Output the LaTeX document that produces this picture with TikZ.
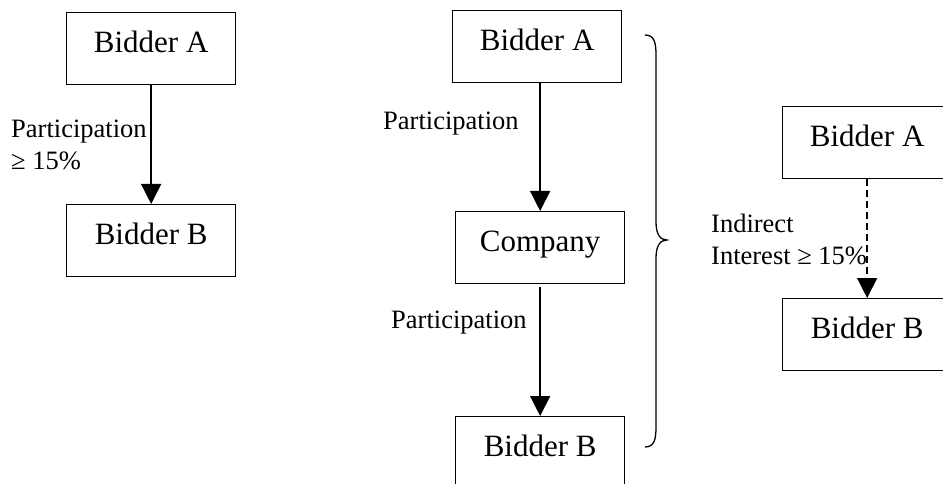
\documentclass[tikz,border=0pt]{standalone}
\usepackage{fontspec}
\setmainfont{Liberation Serif}
\usetikzlibrary{arrows.meta}
\begin{document}
\begin{tikzpicture}[x=1pt,y=-1pt,
  box/.style={draw,line width=1.3pt,inner sep=0pt,minimum width=169pt,
    text height=40pt,text depth=32pt,anchor=north west,
    font=\fontsize{31}{32}\selectfont},
  lbl/.style={inner sep=0pt,anchor=base west,font=\fontsize{26.5}{32}\selectfont},
  arr/.style={line width=1.4pt,-{Triangle[width=20pt,length=20pt]}},
  darr/.style={arr,dash pattern=on 7pt off 4pt}]
\useasboundingbox (0,0) rectangle (943,484);
\clip (0,0) rectangle (943,484);
% left
\node[box] (la) at (66,12) {Bidder A};
\node[box] (lb) at (66,204) {Bidder B};
\draw[arr] (la.south) -- (lb.north);
\node[lbl] (lp1) at (11,138) {Participation};
\node[lbl] (lp2) at (11,170) {≥ 15\%};
% middle
\node[box] (ma) at (452,10) {Bidder A};
\node[box] (mc) at (455,211) {Company};
\node[box] (mb) at (455,416) {Bidder B};
\draw[arr] (ma.south -| mc.south) -- (mc.north);
\draw[arr] ([yshift=-3pt]mc.south) -- (mb.north);
\node[lbl] (mp1) at (383,130) {Participation};
\node[lbl] (mp2) at (391,328) {Participation};
% brace
\draw[line width=1.3pt] (645,35) .. controls (654,35) and (656,42) .. (656,55)
  -- (656,222) .. controls (656,234) and (660,240) .. (667,240)
  .. controls (660,240) and (656,246) .. (656,258)
  -- (656,427) .. controls (656,440) and (654,447) .. (645,447);
% right
\node[box] (ra) at (782,106) {Bidder A};
\node[box] (rb) at (782,298) {Bidder B};
\draw[darr] (ra.south) -- (rb.north);
\node[lbl] (rp1) at (711,232) {Indirect};
\node[lbl] (rp2) at (711,264) {Interest ≥ 15\%};
\end{tikzpicture}
\end{document}
